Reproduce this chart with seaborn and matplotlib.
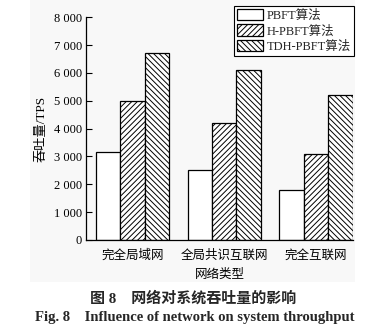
import matplotlib
matplotlib.use("Agg")
import matplotlib.pyplot as plt
import seaborn as sns
import pandas as pd
from matplotlib.patches import Rectangle
from matplotlib.ticker import FuncFormatter

categories = ["完全局域网", "全局共识互联网", "完全互联网"]
series_names = ["PBFT算法", "H-PBFT算法", "TDH-PBFT算法"]
pbft = [3150, 2500, 1800]
h_pbft = [5000, 4200, 3100]
tdh_pbft = [6700, 6100, 5200]
y_ticks = [0, 1000, 2000, 3000, 4000, 5000, 6000, 7000, 8000]

sns.set_theme(style="white")
FAM = ["Liberation Serif", "Noto Sans CJK SC"]
plt.rcParams["font.family"] = FAM
plt.rcParams["hatch.linewidth"] = 0.7
plt.rcParams["hatch.color"] = "black"

rows = []
for name, vals in zip(series_names, [pbft, h_pbft, tdh_pbft]):
    for c, v in zip(categories, vals):
        rows.append({"net": c, "alg": name, "tps": v})
df = pd.DataFrame(rows)

fig = plt.figure(figsize=(3.92, 3.35), dpi=100)
fig.patch.set_facecolor("white")
fig.add_artist(Rectangle((30/392, 1-282/335), 325/392, 282/335, transform=fig.transFigure,
                         facecolor="#f8f8f8", edgecolor="none", zorder=-10))
ax = fig.add_axes([86/392, 1-240/335, 267/392, 222.7/335])
ax.set_facecolor("none")

sns.barplot(data=df, x="net", y="tps", hue="alg", order=categories, hue_order=series_names,
            palette=["white", "white", "white"], edgecolor="black", linewidth=0.9,
            width=0.8, gap=0, ax=ax, legend=True)

hatches = ["", "//////", "\\\\\\\\\\\\"]
for cont, h in zip(ax.containers, hatches):
    for bar in cont:
        bar.set_hatch(h)
        bar.set_edgecolor("black")

ax.set_xlim(-0.507, 2.405)
ax.set_ylim(0, 8000)
ax.set_yticks(y_ticks)
ax.yaxis.set_major_formatter(FuncFormatter(lambda v, p: f"{int(v):,}".replace(",", " ")))
for s in ["top", "right"]:
    ax.spines[s].set_visible(False)
for s in ["left", "bottom"]:
    ax.spines[s].set_color("black")
    ax.spines[s].set_linewidth(0.9)
ax.tick_params(axis="y", direction="in", length=4, width=0.8, color="black", labelsize=9, pad=3, left=True)
ax.tick_params(axis="x", length=0, labelsize=9, pad=7)
for lab in ax.get_xticklabels() + ax.get_yticklabels():
    lab.set_family(FAM)
    lab.set_color("black")

ax.set_xlabel("网络类型", fontsize=9, family=FAM, color="black", labelpad=5)
ax.set_ylabel("吞吐量/TPS", fontsize=9.5, family=FAM, color="black", labelpad=4)

handles, labels = ax.get_legend_handles_labels()
for hd, h in zip(handles, hatches):
    hd.set_hatch(h)
    hd.set_edgecolor("black")
    hd.set_facecolor("white")
leg = ax.legend(handles, labels, loc="upper right", bbox_to_anchor=(1.005, 1.052),
                fancybox=False, edgecolor="black", framealpha=1,
                borderpad=0.25, handlelength=2.1, handleheight=1.0, handletextpad=0.3,
                labelspacing=0.22, borderaxespad=0, prop={"family": FAM, "size": 9})
leg.get_frame().set_linewidth(0.8)

fig.text(193/392, 1-298/335, "图 8    网络对系统吞吐量的影响", ha="center", va="center",
         fontsize=10.8, fontweight="bold", family=["Liberation Serif", "Noto Sans CJK SC"])
fig.text(195/392, 1-318/335, "Fig. 8    Influence of network on system throughput", ha="center",
         va="center", fontsize=10.5, fontweight="bold", family=["Liberation Serif"])

fig.savefig("out.png", dpi=100)
